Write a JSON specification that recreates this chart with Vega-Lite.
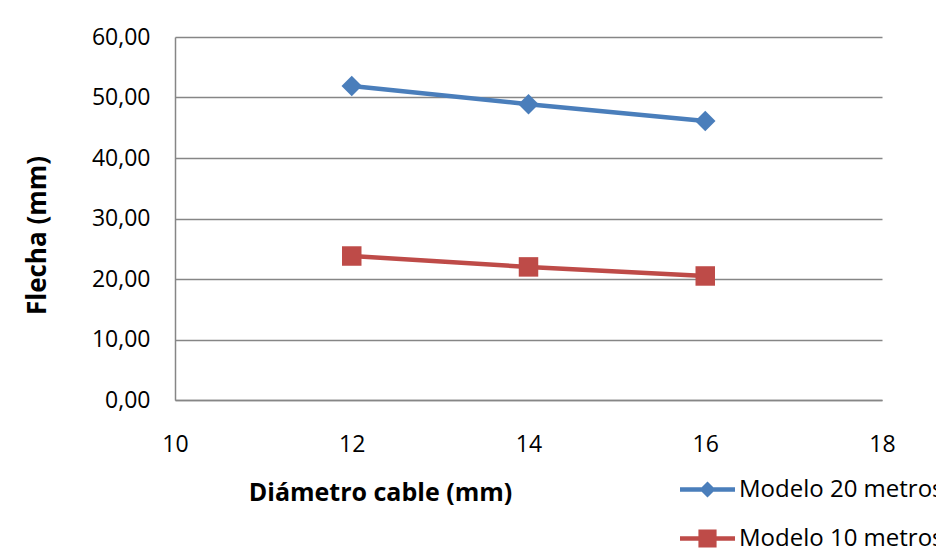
{
  "$schema": "https://vega.github.io/schema/vega-lite/v6.json",
  "width": 707,
  "height": 363,
  "autosize": {"type": "none"},
  "padding": {"left": 175, "top": 37, "right": 54, "bottom": 157},
  "background": "white",
  "config": {
    "view": {"stroke": null},
    "font": "Open Sans",
    "locale": {"number": {"decimal": ",", "thousands": ".", "grouping": [3], "currency": ["", " €"]}},
    "axis": {"domainColor": "#868686", "domainWidth": 1.5, "ticks": false, "labelColor": "#000000", "titleColor": "#000000", "labelFont": "Open Sans", "titleFont": "Open Sans"}
  },
  "data": {
    "values": [
      {"d": 12, "f": 51.9, "serie": "Modelo 20 metros"},
      {"d": 14, "f": 48.9, "serie": "Modelo 20 metros"},
      {"d": 16, "f": 46.1, "serie": "Modelo 20 metros"},
      {"d": 12, "f": 23.8, "serie": "Modelo 10 metros"},
      {"d": 14, "f": 22.0, "serie": "Modelo 10 metros"},
      {"d": 16, "f": 20.5, "serie": "Modelo 10 metros"}
    ]
  },
  "encoding": {
    "x": {
      "field": "d", "type": "quantitative",
      "scale": {"domain": [10, 18], "nice": false, "zero": false},
      "axis": {"values": [10, 12, 14, 16, 18], "grid": false, "labelFontSize": 23, "labelPadding": 33, "labelFlush": false, "labelOverlap": false,
        "title": "Diámetro cable (mm)", "titleFontSize": 25, "titleFontWeight": "bold", "titleX": 205, "titleY": 92, "titleBaseline": "middle", "titleAlign": "center"}
    },
    "y": {
      "field": "f", "type": "quantitative",
      "scale": {"domain": [0, 60], "nice": false},
      "axis": {"values": [0, 10, 20, 30, 40, 50, 60], "format": ".2f", "grid": true, "gridColor": "#868686", "gridWidth": 1.5,
        "labelFontSize": 23, "labelPadding": 25, "labelFlush": false,
        "title": "Flecha (mm)", "titleFontSize": 26, "titleFontWeight": "bold", "titleX": -138, "titleY": 198, "titleBaseline": "middle", "titleAlign": "center", "titleAngle": -90}
    }
  },
  "layer": [
    {
      "mark": {"type": "point", "filled": true, "size": 1},
      "encoding": {
        "fill": {"field": "serie", "type": "nominal",
          "scale": {"domain": ["Modelo 20 metros", "Modelo 10 metros"], "range": ["#4A7EBB", "#BE4B48"]},
          "legend": {"orient": "none", "legendX": 505, "legendY": 425, "title": null, "symbolSize": 3025, "symbolOpacity": 1, "symbolStrokeWidth": 0, "labelFontSize": 24, "labelColor": "#000000", "labelOffset": 4, "rowPadding": 9, "labelFont": "Open Sans", "labelLimit": 1000}},
        "shape": {"field": "serie", "type": "nominal",
          "scale": {"domain": ["Modelo 20 metros", "Modelo 10 metros"], "range": [
            "M-1,-0.08H-0.21L0,-0.29L0.21,-0.08H1V0.08H0.21L0,0.29L-0.21,0.08H-1Z",
            "M-1,-0.08H-0.33V-0.33H0.33V-0.08H1V0.08H0.33V0.33H-0.33V0.08H-1Z"]},
          "legend": {"orient": "none", "legendX": 505, "legendY": 425, "title": null, "symbolSize": 3025, "symbolOpacity": 1, "symbolStrokeWidth": 0, "labelFontSize": 24, "labelColor": "#000000", "labelOffset": 4, "rowPadding": 9, "labelFont": "Open Sans", "labelLimit": 1000}}
      }
    },
    {
      "transform": [{"filter": "datum.serie == 'Modelo 20 metros'"}],
      "mark": {"type": "line", "strokeWidth": 4.5, "color": "#4A7EBB"},
      "encoding": {}
    },
    {
      "transform": [{"filter": "datum.serie == 'Modelo 10 metros'"}],
      "mark": {"type": "line", "strokeWidth": 4.5, "color": "#BE4B48"},
      "encoding": {}
    },
    {
      "transform": [{"filter": "datum.serie == 'Modelo 20 metros'"}],
      "mark": {"type": "point", "filled": true, "opacity": 1, "size": 420, "shape": "diamond", "color": "#4A7EBB"},
      "encoding": {}
    },
    {
      "transform": [{"filter": "datum.serie == 'Modelo 10 metros'"}],
      "mark": {"type": "point", "filled": true, "opacity": 1, "size": 380, "shape": "square", "color": "#BE4B48"},
      "encoding": {}
    }
  ]
}
